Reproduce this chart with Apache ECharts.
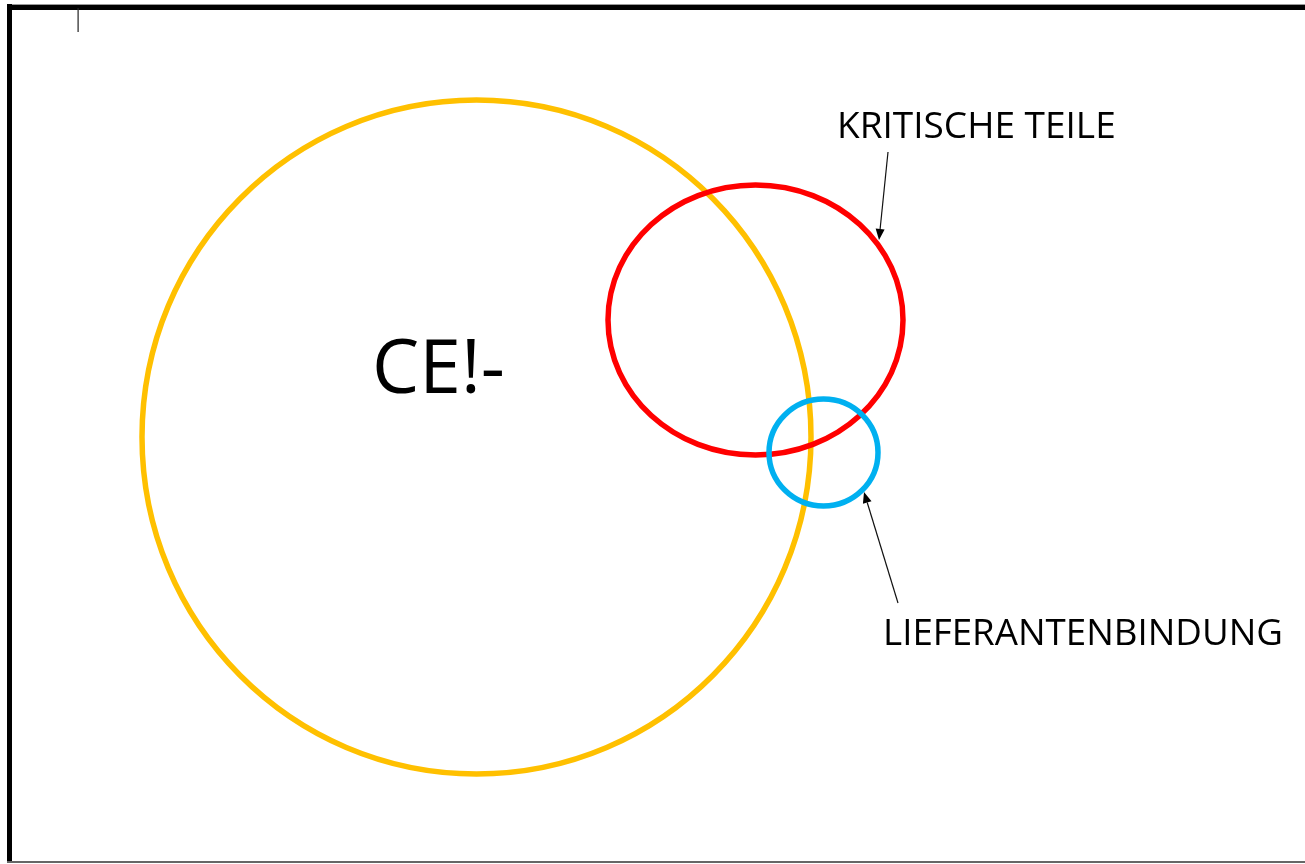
<!DOCTYPE html>
<html>
<head>
<meta charset="utf-8">
<script src="https://cdn.jsdelivr.net/npm/echarts@6/dist/echarts.min.js"></script>
<style>
html,body{margin:0;padding:0;background:#fff;}
#chart{width:1305px;height:864px;}
</style>
</head>
<body>
<div id="chart"></div>
<script>
// Venn-like sets: centre and radii in diagram units
const setNames = ['CE!-', 'KRITISCHE TEILE', 'LIEFERANTENBINDUNG'];
const centerX = [476.5, 755.5, 823.5];
const centerY = [437, 320, 452.5];
const radiusX = [334.5, 147.5, 54.5];
const radiusY = [337, 135, 53.5];

// Labels: text and anchor point (diagram units)
const labelTexts = ['CE!-', 'KRITISCHE TEILE', 'LIEFERANTENBINDUNG'];
const labelX = [372, 837, 883];
const labelY = [372, 127, 635];

// Arrows: from (x1,y1) to (x2,y2)
const arrowX1 = [888, 898];
const arrowY1 = [152, 603];
const arrowX2 = [879, 864];
const arrowY2 = [240, 492];

const setColors = ['#FFC000', '#FF0000', '#00B0F0'];
const labelSizes = [75, 37, 36.7];

const chart = echarts.init(document.getElementById('chart'));

const ellipseData = setNames.map((n, i) => ({name: n, value: [centerX[i], centerY[i], radiusX[i], radiusY[i]]}));
const labelData = labelTexts.map((t, i) => ({name: t, value: [labelX[i], labelY[i]]}));
const arrowData = arrowX1.map((x, i) => [x, arrowY1[i], arrowX2[i], arrowY2[i]]);

chart.setOption({
  backgroundColor: '#fff',
  animation: false,
  grid: {left: 0, right: 0, top: 0, bottom: 0},
  xAxis: {type: 'value', min: 0, max: 1305, show: false},
  yAxis: {type: 'value', min: 0, max: 864, inverse: true, show: false},
  graphic: [
    {type: 'rect', shape: {x: 7, y: 4, width: 1298, height: 6}, style: {fill: '#000'}},
    {type: 'rect', shape: {x: 7, y: 4, width: 1298, height: 1}, style: {fill: '#999'}},
    {type: 'rect', shape: {x: 7, y: 4, width: 5, height: 859}, style: {fill: '#000'}},
    {type: 'rect', shape: {x: 7, y: 861, width: 1298, height: 2}, style: {fill: '#666'}},
    {type: 'rect', shape: {x: 77.5, y: 8, width: 1.2, height: 24}, style: {fill: '#222'}}
  ],
  series: [
    {
      type: 'custom',
      data: ellipseData,
      renderItem: function (params, api) {
        const c = api.coord([api.value(0), api.value(1)]);
        const s = api.size([api.value(2), api.value(3)]);
        return {
          type: 'ellipse',
          shape: {cx: c[0], cy: c[1], rx: s[0], ry: s[1]},
          style: {fill: 'none', stroke: setColors[params.dataIndex], lineWidth: 5.5}
        };
      }
    },
    {
      type: 'custom',
      data: arrowData,
      renderItem: function (params, api) {
        const p1 = api.coord([api.value(0), api.value(1)]);
        const p2 = api.coord([api.value(2), api.value(3)]);
        const dx = p2[0] - p1[0], dy = p2[1] - p1[1];
        const len = Math.sqrt(dx * dx + dy * dy);
        const ux = dx / len, uy = dy / len;
        const hl = 11, hw = 4.5;
        const bx = p2[0] - ux * hl, by = p2[1] - uy * hl;
        return {
          type: 'group',
          children: [
            {type: 'line', shape: {x1: p1[0], y1: p1[1], x2: bx, y2: by}, style: {stroke: '#111', lineWidth: 1.2}},
            {type: 'polygon', shape: {points: [[p2[0], p2[1]], [bx - uy * hw, by + ux * hw], [bx + uy * hw, by - ux * hw]]}, style: {fill: '#000'}}
          ]
        };
      }
    },
    {
      type: 'custom',
      data: labelData,
      renderItem: function (params, api) {
        const c = api.coord([api.value(0), api.value(1)]);
        return {
          type: 'text',
          style: {
            text: labelTexts[params.dataIndex],
            x: c[0], y: c[1],
            fill: '#000',
            font: labelSizes[params.dataIndex] + 'px "Open Sans"',
            align: 'left', verticalAlign: 'middle'
          }
        };
      }
    }
  ]
});
</script>
</body>
</html>
